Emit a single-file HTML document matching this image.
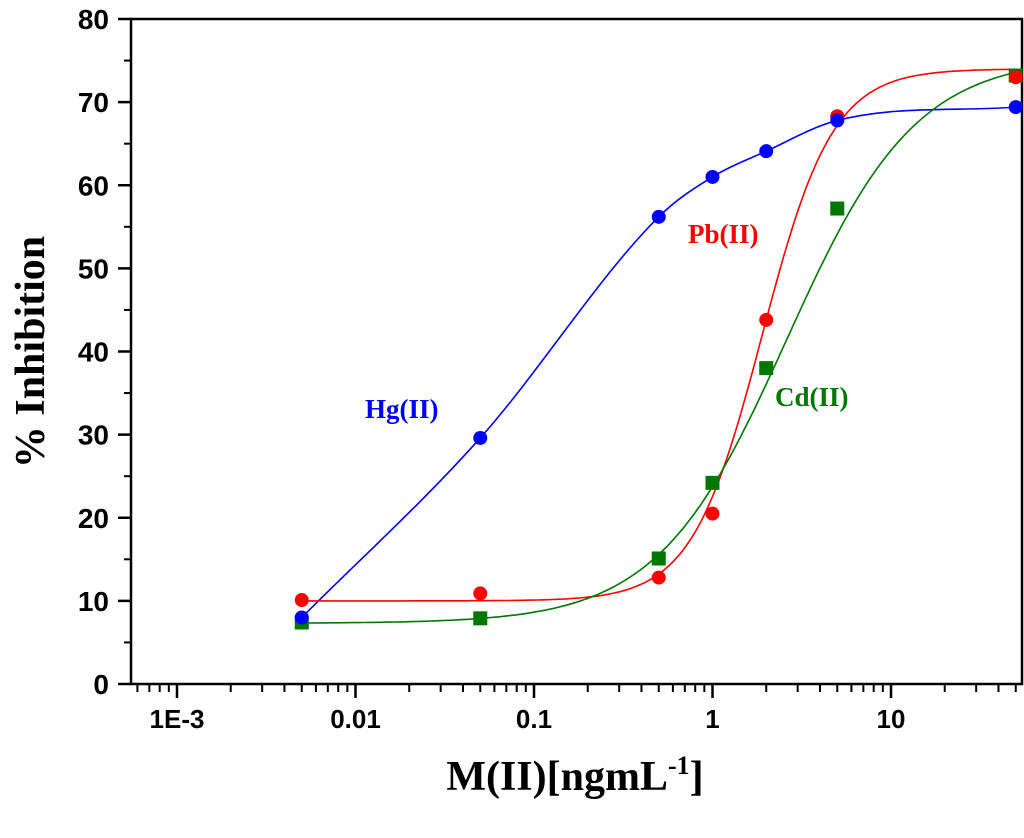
<!DOCTYPE html>
<html><head><meta charset="utf-8"><style>
body{margin:0;background:#fff}
svg text{font-family:"Liberation Sans",Arial,sans-serif;font-weight:bold}
.serif{font-family:"Liberation Serif","Times New Roman",serif!important}
</style></head><body>
<svg id="chart" width="1024" height="833" viewBox="0 0 1024 833">
<g id="axes"></g>
<g id="curves"></g>
<g id="points"></g>
<text class="serif" x="365" y="418" font-size="27" fill="#0000ff">Hg(II)</text>
<text class="serif" x="688" y="243" font-size="27" fill="#ff0000">Pb(II)</text>
<text class="serif" x="775" y="406" font-size="27" fill="#007700">Cd(II)</text>
<text class="serif" x="575" y="790" font-size="42" text-anchor="middle">M(II)[ngmL<tspan dy="-16" font-size="26">-1</tspan><tspan dy="16">]</tspan></text>
<text class="serif" transform="translate(44,352) rotate(-90)" font-size="42" text-anchor="middle">% Inhibition</text>
</svg>
<script>
const xValues=[0.005,0.05,0.5,1,2,5,50];
const hgValues=[8,29.6,56.2,61,64.1,67.8,69.4];
const pbValues=[10.1,10.9,12.8,20.5,43.8,68.3,73];
const cdValues=[7.4,7.9,15.1,24.2,38,57.2,73.2];
const yTicks=[0,10,20,30,40,50,60,70,80];
const xTickLabels=["1E-3","0.01","0.1","1","10"];
const xTickValues=[0.001,0.01,0.1,1,10];
const pbFit=[10,74,1.9,2.2];
const cdFit=[7.3,75.5,2.6,1.2];

const NS="http://www.w3.org/2000/svg";
const L=131,R=1022,T=19,B=684;
const lmin=Math.log10(0.001)-(177-L)/178.5, lmax=lmin+(R-L)/178.5;
const xs=v=>L+(Math.log10(v)-lmin)/(lmax-lmin)*(R-L);
const ys=v=>B-v/80*(B-T);
function mk(tag,attrs,parent){const e=document.createElementNS(NS,tag);for(const k in attrs)e.setAttribute(k,attrs[k]);parent.appendChild(e);return e;}
const ax=document.getElementById('axes');
let r=mk('rect',{x:L,y:T,width:R-L,height:B-T,fill:'none',stroke:'#000','stroke-width':2.5},ax);


yTicks.forEach(v=>{const y=ys(v);
 mk('line',{x1:L-13,x2:L,y1:y,y2:y,stroke:'#000','stroke-width':2.5},ax);
 if(v<80){mk('line',{x1:L-7,x2:L,y1:ys(v+5),y2:ys(v+5),stroke:'#000','stroke-width':2},ax);}
 const t=mk('text',{x:L-22,y:y+10,'font-size':28,'text-anchor':'end'},ax);t.textContent=v;
 
 
});
for(let d=-4;d<=1;d++){for(let m=1;m<10;m++){const v=m*Math.pow(10,d);const x=xs(v);if(x<L||x>R)continue;
 mk('line',{x1:x,x2:x,y1:B,y2:B+(m==1?14:8),stroke:'#000','stroke-width':m==1?2.5:2},ax);}}
xTickValues.forEach((v,i)=>{const t=mk('text',{x:xs(v),y:B+44,'font-size':26,'text-anchor':'middle'},ax);t.textContent=xTickLabels[i];
 
 });
const cv=document.getElementById('curves');
function logistic(p,x){return p[1]+(p[0]-p[1])/(1+Math.pow(x/p[2],p[3]));}
function pathFit(p,color,name){let d='';for(let i=0;i<=200;i++){const lx=Math.log10(0.005)+i/200*(Math.log10(50)-Math.log10(0.005));const x=Math.pow(10,lx);d+=(i?'L':'M')+xs(x).toFixed(1)+','+ys(logistic(p,x)).toFixed(1);}
 const e=mk('path',{d:d,fill:'none',stroke:color,'stroke-width':1.6},cv);
 
 }
function pathSpline(vals,color,name){const px=xValues.map(xs),py=vals.map(ys);let d='M'+px[0]+','+py[0];const n=px.length;
 const m=[];for(let i=0;i<n;i++){if(i==0)m.push((py[1]-py[0])/(px[1]-px[0]));else if(i==n-1)m.push((py[n-1]-py[n-2])/(px[n-1]-px[n-2]));else m.push(((py[i+1]-py[i])/(px[i+1]-px[i])+(py[i]-py[i-1])/(px[i]-px[i-1]))/2);}
 for(let i=0;i<n-1;i++){const h=px[i+1]-px[i];d+=`C${px[i]+h/3},${py[i]+m[i]*h/3} ${px[i+1]-h/3},${py[i+1]-m[i+1]*h/3} ${px[i+1]},${py[i+1]}`;}
 const e=mk('path',{d:d,fill:'none',stroke:color,'stroke-width':1.6},cv);
 
 }
pathSpline(hgValues,'#0000ff','hg-fit-curve');
pathFit(pbFit,'#ff0000','pb-fit-curve');
pathFit(cdFit,'#007700','cd-fit-curve');
const pt=document.getElementById('points');
xValues.forEach((x,i)=>{
 let s=mk('rect',{x:xs(x)-7,y:ys(cdValues[i])-7,width:14,height:14,fill:'#007700'},pt);
 
 
 let c=mk('circle',{cx:xs(x),cy:ys(pbValues[i]),r:7,fill:'#ff0000'},pt);
 
 
 let h=mk('circle',{cx:xs(x),cy:ys(hgValues[i]),r:7,fill:'#0000ff'},pt);
 
 
});
</script>
</body></html>
